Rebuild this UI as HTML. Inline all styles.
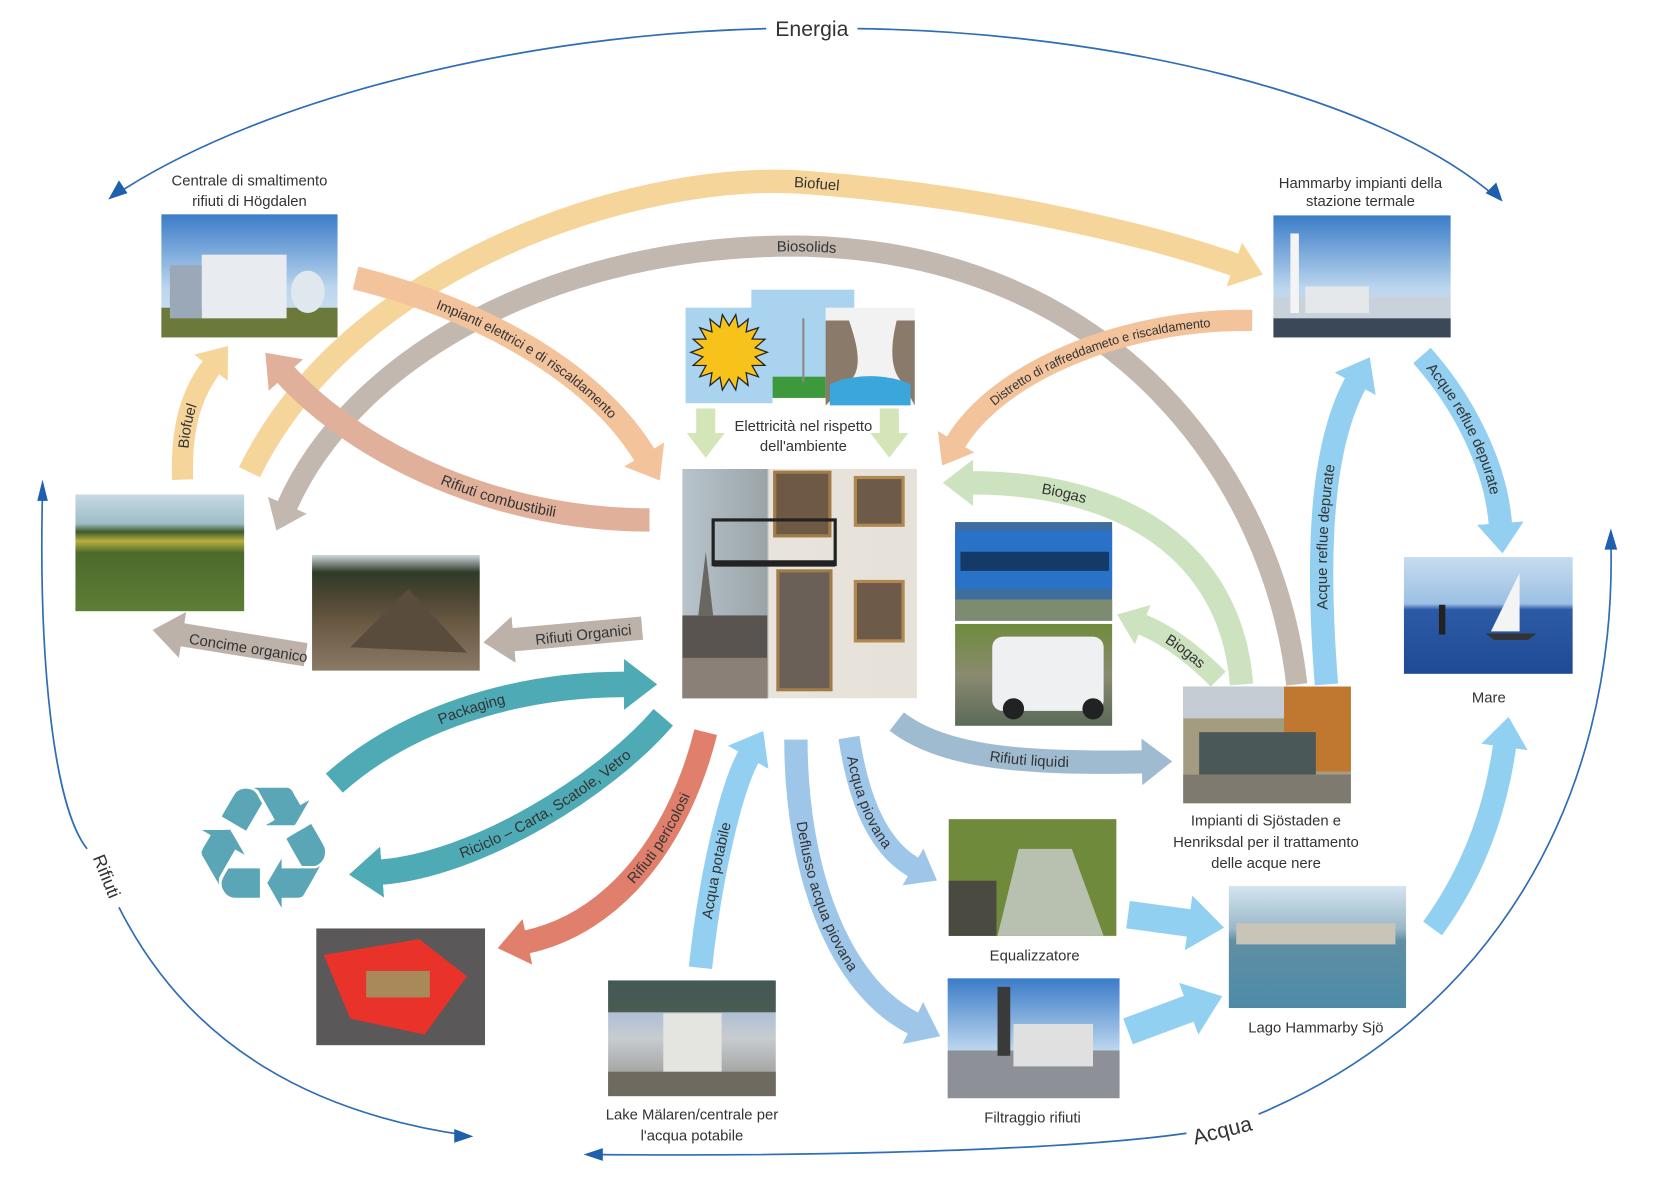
<!DOCTYPE html>
<html><head><meta charset="utf-8"><style>
html,body{margin:0;padding:0;background:#fff;}
svg{display:block;}
text{font-family:"Liberation Sans",sans-serif;fill:#333;}
</style></head><body>
<svg id="s" width="1664" height="1181" viewBox="0 0 1568 1113" xmlns="http://www.w3.org/2000/svg">
<defs>
<linearGradient id="sky" x1="0" y1="0" x2="0" y2="1"><stop offset="0" stop-color="#3b7cc8"/><stop offset="0.6" stop-color="#bcd6ee"/><stop offset="1" stop-color="#d7e3ee"/></linearGradient>
<linearGradient id="field" x1="0" y1="0" x2="0" y2="1"><stop offset="0" stop-color="#c5dbe6"/><stop offset="0.25" stop-color="#9fbcc6"/><stop offset="0.32" stop-color="#3d5a2a"/><stop offset="0.4" stop-color="#b8b040"/><stop offset="0.5" stop-color="#4c6a2c"/><stop offset="1" stop-color="#5d7e35"/></linearGradient>
<linearGradient id="compost" x1="0" y1="0" x2="0" y2="1"><stop offset="0" stop-color="#cfd8de"/><stop offset="0.15" stop-color="#2f3a28"/><stop offset="0.35" stop-color="#4a4530"/><stop offset="0.6" stop-color="#6b5a44"/><stop offset="1" stop-color="#8a7a66"/></linearGradient>
<linearGradient id="sea" x1="0" y1="0" x2="0" y2="1"><stop offset="0" stop-color="#c6dcef"/><stop offset="0.4" stop-color="#9cc0e4"/><stop offset="0.45" stop-color="#2d5aa6"/><stop offset="1" stop-color="#1e4a95"/></linearGradient>
<linearGradient id="lake" x1="0" y1="0" x2="0" y2="1"><stop offset="0" stop-color="#d5e4f0"/><stop offset="0.35" stop-color="#9ab8c8"/><stop offset="0.45" stop-color="#5f8fa4"/><stop offset="1" stop-color="#4e8aa6"/></linearGradient>
<linearGradient id="bld" x1="0" y1="0" x2="1" y2="0"><stop offset="0" stop-color="#b8c4cc"/><stop offset="0.36" stop-color="#9aa4a8"/><stop offset="0.37" stop-color="#e8e4dc"/><stop offset="1" stop-color="#e6e2da"/></linearGradient>
<linearGradient id="green" x1="0" y1="0" x2="0" y2="1"><stop offset="0" stop-color="#6f8c3c"/><stop offset="0.5" stop-color="#8a8a70"/><stop offset="1" stop-color="#5b6a58"/></linearGradient>
<linearGradient id="urban" x1="0" y1="0" x2="0" y2="1"><stop offset="0" stop-color="#8fb0d8"/><stop offset="0.5" stop-color="#c8ccd0"/><stop offset="1" stop-color="#8c8c88"/></linearGradient>
</defs>

<g fill="none" stroke="#2f6db5" stroke-width="1.6">
<path d="M108,184 C250,90 500,32 722,27"/>
<path d="M808,27 C1050,30 1300,90 1410,186"/>
<path d="M40,462 C36,620 50,760 82,800"/>
<path d="M112,855 C180,990 300,1050 440,1070"/>
<path d="M556,1088 C750,1090 1000,1085 1118,1068"/>
<path d="M1186,1050 C1400,960 1525,760 1518,508"/>
</g>
<g fill="#1e5fae">
<polygon points="102,188 112,170 120,182"/>
<polygon points="1416,190 1400,182 1410,172"/>
<polygon points="40,452 35,472 45,472"/>
<polygon points="446,1071 428,1064 428,1077"/>
<polygon points="550,1088 568,1082 568,1094"/>
<polygon points="1518,498 1512,518 1524,518"/>
</g>
<text x="765" y="34" font-size="20" text-anchor="middle" fill="#333">Energia</text>
<text x="1152" y="1072" font-size="20" text-anchor="middle" transform="rotate(-14 1152 1066)">Acqua</text>
<text x="95" y="828" font-size="17" text-anchor="middle" transform="rotate(68 95 828)">Rifiuti</text>

<g id="arrows"></g>

<g>
<rect x="152" y="202" width="166" height="116" fill="url(#sky)"/>
<rect x="152" y="290" width="166" height="28" fill="#6b7a3a"/>
<rect x="190" y="240" width="80" height="60" fill="#e8ecf0"/>
<rect x="160" y="250" width="30" height="50" fill="#9aa8b8"/>
<ellipse cx="290" cy="275" rx="16" ry="20" fill="#dfe7ef"/>
<text x="235" y="175" font-size="14" text-anchor="middle">Centrale di smaltimento</text>
<text x="235" y="194" font-size="14" text-anchor="middle">rifiuti di Högdalen</text>
<rect x="1200" y="203" width="167" height="115" fill="url(#sky)"/>
<rect x="1200" y="280" width="167" height="38" fill="#c9d2da"/>
<rect x="1216" y="220" width="8" height="75" fill="#f4f4f4"/>
<rect x="1230" y="270" width="60" height="25" fill="#e4e8ea"/>
<rect x="1200" y="300" width="167" height="18" fill="#3a4858"/>
<text x="1282" y="177" font-size="14" text-anchor="middle">Hammarby impianti della</text>
<text x="1282" y="194" font-size="14" text-anchor="middle">stazione termale</text>
<rect x="708" y="273" width="97" height="102" fill="#a9d3ee"/>
<rect x="728" y="355" width="52" height="20" fill="#3c9a3c"/>
<line x1="757" y1="300" x2="757" y2="360" stroke="#888" stroke-width="2"/>
<rect x="646" y="290" width="82" height="90" fill="#a9d3ee"/>
<polygon id="sun" points="" fill="#f7c21a" stroke="#222" stroke-width="1.2"/>
<rect x="778" y="290" width="84" height="92" fill="#f2f2f2"/>
<path d="M778,302 L800,302 C810,330 812,350 800,360 L778,382Z M862,302 L845,302 C838,330 840,350 850,360 L862,382Z" fill="#8a7a6a"/>
<path d="M782,362 C805,352 835,352 858,362 L858,382 L782,382Z" fill="#3aa6dc"/>
<text x="757" y="406" font-size="14" text-anchor="middle">Elettricità nel rispetto</text>
<text x="757" y="425" font-size="14" text-anchor="middle">dell'ambiente</text>
<rect x="643" y="442" width="221" height="216" fill="url(#bld)"/>
<rect x="643" y="580" width="80" height="78" fill="#5a5450"/>
<polygon points="658,580 665,520 672,580" fill="#6a6660"/>
<rect x="643" y="620" width="80" height="38" fill="#8a8078"/>
<rect x="730" y="445" width="52" height="60" fill="#6e5a44" stroke="#a07c48" stroke-width="3"/>
<rect x="806" y="450" width="45" height="45" fill="#6e5a48" stroke="#b08850" stroke-width="3"/>
<rect x="806" y="548" width="45" height="56" fill="#6e5a48" stroke="#b08850" stroke-width="3"/>
<rect x="733" y="538" width="50" height="112" fill="#6a6058" stroke="#a07c48" stroke-width="3"/>
<rect x="672" y="490" width="115" height="42" fill="none" stroke="#222" stroke-width="3"/>
<rect x="672" y="528" width="115" height="6" fill="#222"/>
<rect x="71" y="466" width="159" height="110" fill="url(#field)"/>
<rect x="294" y="523" width="158" height="109" fill="url(#compost)"/>
<polygon points="330,610 385,555 440,615" fill="#5a4c3c"/>
<rect x="900" y="492" width="148" height="93" fill="#3d6e9e"/>
<rect x="900" y="500" width="148" height="55" fill="#2a72c8"/>
<rect x="905" y="520" width="140" height="18" fill="#163a68"/>
<rect x="900" y="565" width="148" height="20" fill="#7d8c70"/>
<rect x="900" y="588" width="148" height="96" fill="url(#green)"/>
<rect x="935" y="600" width="105" height="70" rx="10" fill="#eef0f2"/>
<circle cx="955" cy="668" r="10" fill="#222"/><circle cx="1030" cy="668" r="10" fill="#222"/>
<rect x="1115" y="647" width="158" height="110" fill="#a49c80"/>
<rect x="1115" y="647" width="158" height="30" fill="#c4cdd4"/>
<rect x="1210" y="647" width="63" height="80" fill="#c07830"/>
<rect x="1130" y="690" width="110" height="40" fill="#4a5858"/>
<rect x="1115" y="730" width="158" height="27" fill="#7e7a70"/>
<text x="1193" y="778" font-size="14" text-anchor="middle">Impianti di Sjöstaden e</text>
<text x="1193" y="798" font-size="14" text-anchor="middle">Henriksdal per il trattamento</text>
<text x="1193" y="818" font-size="14" text-anchor="middle">delle acque nere</text>
<rect x="1323" y="525" width="159" height="110" fill="url(#sea)"/>
<polygon points="1432,540 1432,595 1405,595" fill="#f4f4f4"/>
<polygon points="1400,597 1448,597 1440,603 1408,603" fill="#333"/>
<rect x="1356" y="570" width="6" height="28" fill="#222"/>
<text x="1403" y="662" font-size="14" text-anchor="middle">Mare</text>
<text x="248" y="855" font-size="160" text-anchor="middle" style="font-family:'DejaVu Sans',sans-serif;fill:#5aa6b6">♻</text>
<rect x="298" y="875" width="159" height="110" fill="#5a5858"/>
<polygon points="305,900 395,885 440,920 400,975 330,960" fill="#e8322a"/>
<rect x="345" y="915" width="60" height="25" fill="#a88a5a"/>
<rect x="573" y="924" width="158" height="109" fill="url(#urban)"/>
<rect x="573" y="924" width="158" height="30" fill="#2a3a28" opacity="0.75"/>
<rect x="625" y="955" width="55" height="60" fill="#e4e4e0"/>
<rect x="573" y="1010" width="158" height="23" fill="#6e6a60"/>
<text x="652" y="1055" font-size="14" text-anchor="middle">Lake Mälaren/centrale per</text>
<text x="652" y="1075" font-size="14" text-anchor="middle">l'acqua potabile</text>
<rect x="894" y="772" width="158" height="110" fill="#6f8a3a"/>
<polygon points="960,800 1010,800 1040,882 940,882" fill="#b8c0b0"/>
<rect x="894" y="830" width="45" height="52" fill="#4a4a40"/>
<text x="975" y="905" font-size="14" text-anchor="middle">Equalizzatore</text>
<rect x="893" y="922" width="162" height="113" fill="url(#sky)"/>
<rect x="893" y="990" width="162" height="45" fill="#8e9098"/>
<rect x="940" y="930" width="12" height="65" fill="#3a3a3a"/>
<rect x="955" y="965" width="75" height="40" fill="#e0e0e0"/>
<text x="973" y="1058" font-size="14" text-anchor="middle">Filtraggio rifiuti</text>
<rect x="1158" y="835" width="167" height="115" fill="url(#lake)"/>
<rect x="1165" y="870" width="150" height="20" fill="#c8c4b8"/>
<text x="1240" y="973" font-size="14" text-anchor="middle">Lago Hammarby Sjö</text>
</g>
<g id="labels"></g>
</svg>
<script>
(function(){var cx=687,cy=332,pts=[];for(var i=0;i<36;i++){var r=i%2?25:36,a=i*Math.PI/18;pts.push((cx+r*Math.cos(a)).toFixed(1)+","+(cy+r*Math.sin(a)).toFixed(1));}document.getElementById('sun').setAttribute('points',pts.join(' '));})();
var NS="http://www.w3.org/2000/svg";
var g=document.getElementById('arrows'),lg=document.getElementById('labels'),defs=document.querySelector('defs');
var n=0;
function el(t,a,p){var e=document.createElementNS(NS,t);for(var k in a)e.setAttribute(k,a[k]);(p||g).appendChild(e);return e;}
function arrow(d,c,w,label,td,off,fs){
  n++;var id='m'+n;
  var hl=w*1.3,hw=w*2.0;
  var m=el('marker',{id:id,markerUnits:'userSpaceOnUse',markerWidth:hl+4,markerHeight:hw+4,refX:2,refY:hw/2+2,orient:'auto',viewBox:'0 0 '+(hl+4)+' '+(hw+4)},defs);
  el('polygon',{points:'0,2 '+hl+','+(hw/2+2)+' 0,'+(hw+2),fill:c},m);
  el('path',{d:d,fill:'none',stroke:c,'stroke-width':w,'marker-end':'url(#'+id+')'});
  if(label){
    var pid='p'+n;
    el('path',{id:pid,d:td||d,fill:'none',stroke:'none'},defs);
    var t=el('text',{'font-size':fs||14,dy:5},lg);
    var tp=el('textPath',{href:'#'+pid,startOffset:off||'50%','text-anchor':'middle'},t);
    tp.textContent=label;
  }
}
arrow("M235,445 C330,250 600,160 760,172 C930,185 1080,220 1165,250","#f6d59b",22,"Biofuel",null,"61%");
arrow("M1222,645 C1200,450 1050,240 760,232 C520,228 330,340 270,478","#c3b8b0",20,"Biosolids","M270,478 C330,340 520,228 760,232 C1050,240 1200,450 1222,645","46%");
arrow("M172,452 C170,400 182,368 200,345","#f6d59b",20,"Biofuel",null,"45%");
arrow("M335,262 C450,290 560,350 608,430","#f3c39c",22,"Impianti elettrici e di riscaldamento",null,"55%",13);
arrow("M612,490 C470,490 340,430 268,352","#e0b09a",22,"Rifiuti combustibili","M268,352 C340,430 470,490 612,490","62%");
arrow("M1180,302 C1060,300 940,350 900,418","#f3c39c",20,"Distretto di raffreddameto e riscaldamento","M900,418 C940,350 1060,300 1180,302","52%",12);
arrow("M1170,645 C1160,520 1060,455 915,455","#cde3c0",22,"Biogas","M915,455 C1060,455 1160,520 1170,645","25%");
arrow("M1148,640 C1120,612 1095,596 1075,588","#cde3c0",20,"Biogas","M1075,588 C1095,596 1120,612 1148,640","55%");
arrow("M665,385 L665,410","#d4e5b8",18);
arrow("M838,385 L838,410","#d4e5b8",18);
arrow("M605,592 L482,603","#bdb2aa",22,"Rifiuti Organici","M482,605 L605,592","55%");
arrow("M288,617 L170,598","#bdb2aa",22,"Concime organico","M168,600 L288,619","55%");
arrow("M315,738 C380,680 480,645 590,645","#4eaab4",24,"Packaging",null,"50%");
arrow("M625,676 C570,740 450,815 358,822","#4eaab4",24,"Riciclo –  Carta, Scatole, Vetro","M358,822 C450,815 570,740 625,676","55%");
arrow("M665,690 C640,790 580,870 495,888","#e0806c",22,"Rifiuti pericolosi","M495,888 C580,870 640,790 665,690","60%");
arrow("M660,912 C670,820 690,740 706,712","#92cff0",22,"Acqua potabile",null,"45%");
arrow("M750,697 C750,820 790,930 862,965","#9ec6e8",22,"Deflusso acqua piovana",null,"50%");
arrow("M800,695 C810,760 830,800 862,818","#9ec6e8",20,"Acqua piovana",null,"45%");
arrow("M845,680 C890,715 970,720 1078,718","#9ebbd0",22,"Rifiuti liquidi",null,"55%");
arrow("M1063,862 L1122,870","#92d0f2",26);
arrow("M1063,972 L1122,950","#92d0f2",26);
arrow("M1350,875 C1390,820 1410,760 1418,702","#92d0f2",22);
arrow("M1250,645 C1240,520 1245,420 1278,360","#92cff0",22,"Acque reflue depurate",null,"48%");
arrow("M1340,335 C1380,380 1410,440 1414,495","#92cff0",22,"Acque reflue depurate",null,"45%");
</script>
</body></html>
